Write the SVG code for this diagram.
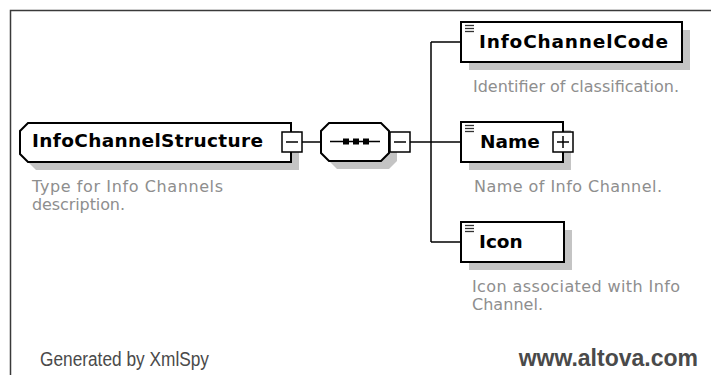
<svg xmlns="http://www.w3.org/2000/svg" width="711" height="375" viewBox="0 0 711 375">
  <style>
    .frame{fill:none;stroke:#3a3a3a;stroke-width:1.5}
    .box{fill:#fff;stroke:#000;stroke-width:2}
    .shadow{fill:#c4c4c4}
    .conn{fill:none;stroke:#000;stroke-width:1.5}
    .btn{fill:#fff;stroke:#000;stroke-width:1.5}
    .sign{stroke:#000;stroke-width:1.5}
    .icon{stroke:#333;stroke-width:1.3}
    .name{font-family:"DejaVu Sans","Liberation Sans",sans-serif;font-weight:bold;font-size:18.5px;fill:#000}
    .desc{font-family:"DejaVu Sans","Liberation Sans",sans-serif;font-size:16px;fill:#8e8e8e}
    .foot{font-family:"Liberation Sans",Arial,sans-serif;fill:#4a4a4a}
  </style>
  <defs>
    <!-- collapse / expand buttons -->
    <g id="minus">
      <rect class="btn" x="0" y="0" width="20" height="20"/>
      <line class="sign" x1="4" y1="10" x2="16" y2="10"/>
    </g>
    <g id="plus">
      <rect class="btn" x="0" y="0" width="20" height="20"/>
      <line class="sign" x1="4" y1="10" x2="16" y2="10"/>
      <line class="sign" x1="10" y1="4" x2="10" y2="16"/>
    </g>
    <!-- element marker in the top-left corner of element boxes -->
    <g id="elemMark">
      <line class="icon" x1="0" y1="0.5" x2="9" y2="0.5"/>
      <line class="icon" x1="0" y1="3.5" x2="9" y2="3.5"/>
      <line class="icon" x1="0" y1="6.5" x2="9" y2="6.5"/>
    </g>
  </defs>

  <rect x="0" y="0" width="711" height="375" fill="#fff"/>
  <path class="frame" d="M10.5,375 V10.5 H711"/>

  <!-- connectors -->
  <g id="connectors">
    <path class="conn" d="M302,142 H321"/>
    <path class="conn" d="M410,142 H431"/>
    <path class="conn" d="M431,42 V242"/>
    <path class="conn" d="M431,42 H461"/>
    <path class="conn" d="M431,142 H461"/>
    <path class="conn" d="M431,242 H461"/>
  </g>

  <!-- complex type -->
  <g id="InfoChannelStructure">
    <path class="shadow" d="M36,131 H299 V170 H36 L28,162 V139 Z"/>
    <path class="box" d="M28,123 H291 V162 H28 L20,154 V131 Z"/>
    <text class="name" x="32" y="147" textLength="231" lengthAdjust="spacing">InfoChannelStructure</text>
    <use href="#minus" x="282" y="132"/>
    <text class="desc" x="32" y="192" textLength="191" lengthAdjust="spacing">Type for Info Channels</text>
    <text class="desc" x="32" y="210" textLength="93" lengthAdjust="spacing">description.</text>
  </g>

  <!-- sequence compositor -->
  <g id="sequence">
    <path class="shadow" d="M337,131 H389 L397,139 V161 L389,169 H337 L329,161 V139 Z"/>
    <path class="box" d="M329,123 H381 L389,131 V153 L381,161 H329 L321,153 V131 Z"/>
    <line class="conn" x1="330" y1="141.5" x2="380" y2="141.5"/>
    <rect x="343" y="138.5" width="6" height="6" fill="#000"/>
    <rect x="353" y="138.5" width="6" height="6" fill="#000"/>
    <rect x="363" y="138.5" width="6" height="6" fill="#000"/>
    <use href="#minus" x="390" y="132"/>
  </g>

  <!-- child elements -->
  <g id="InfoChannelCode">
    <rect class="shadow" x="469" y="30" width="221" height="40"/>
    <rect class="box" x="461" y="22" width="221" height="40"/>
    <use href="#elemMark" x="465" y="25"/>
    <text class="name" x="479" y="48" textLength="189" lengthAdjust="spacing">InfoChannelCode</text>
    <text class="desc" x="473" y="92" textLength="206" lengthAdjust="spacing">Identifier of classification.</text>
  </g>

  <g id="Name">
    <rect class="shadow" x="469" y="130" width="102" height="40"/>
    <rect class="box" x="461" y="122" width="102" height="40"/>
    <use href="#elemMark" x="465" y="125"/>
    <text class="name" x="480" y="148">Name</text>
    <use href="#plus" x="553" y="132"/>
    <text class="desc" x="474" y="192" textLength="188" lengthAdjust="spacing">Name of Info Channel.</text>
  </g>

  <g id="Icon">
    <rect class="shadow" x="469" y="230" width="103" height="40"/>
    <rect class="box" x="461" y="222" width="103" height="40"/>
    <use href="#elemMark" x="465" y="225"/>
    <text class="name" x="479" y="248">Icon</text>
    <text class="desc" x="472" y="292" textLength="208" lengthAdjust="spacing">Icon associated with Info</text>
    <text class="desc" x="472" y="310" textLength="71" lengthAdjust="spacing">Channel.</text>
  </g>

  <!-- footer -->
  <text class="foot" x="40" y="366" font-size="20" textLength="169" lengthAdjust="spacingAndGlyphs">Generated by XmlSpy</text>
  <text class="foot" x="698" y="366" font-size="23" text-anchor="end" font-weight="bold">www.altova.com</text>
</svg>
